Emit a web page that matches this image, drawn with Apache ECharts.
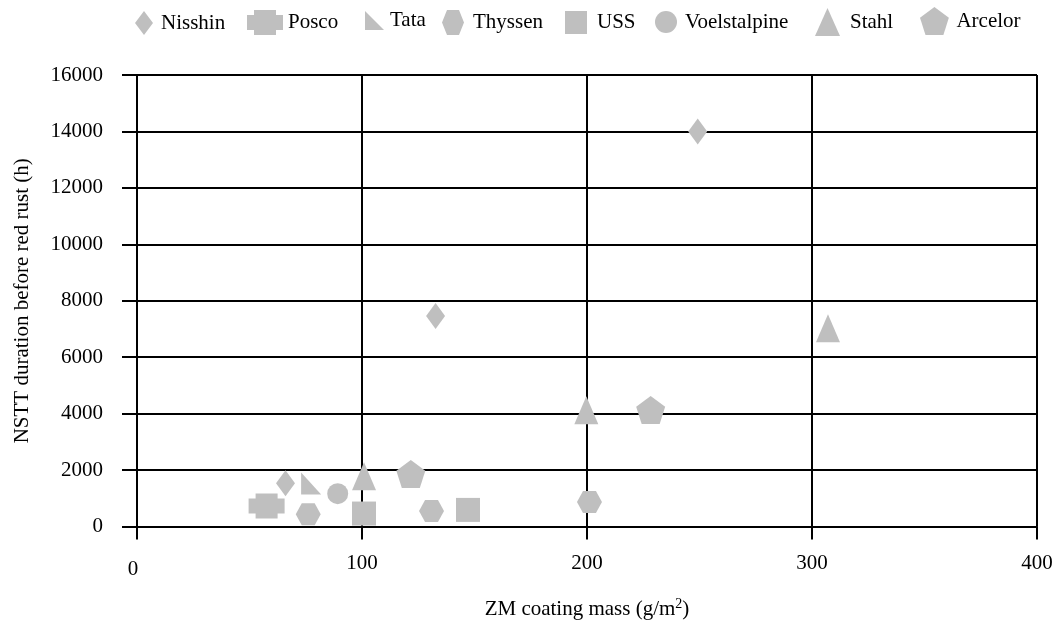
<!DOCTYPE html>
<html>
<head>
<meta charset="utf-8">
<script src="https://cdn.jsdelivr.net/npm/echarts@6/dist/echarts.min.js"></script>
<style>html,body{margin:0;padding:0;background:#fff}#c{width:1057px;height:625px}</style>
</head>
<body>
<div id="c"></div>
<script>
// ---- data ----
const seriesNames = ['Nisshin','Posco','Tata','Thyssen','USS','Voelstalpine','Stahl','Arcelor'];
const nisshinX = [66, 132.7, 249.2];
const nisshinY = [1530, 7460, 14000];
const poscoX = [57.6];
const poscoY = [730];
const tataX = [77.4];
const tataY = [1520];
const thyssenX = [76.1, 130.9, 201.1];
const thyssenY = [435, 547, 865];
const ussX = [100.9, 147.1];
const ussY = [459, 588];
const voelstalpineX = [89.2];
const voelstalpineY = [1165];
const stahlX = [100.9, 199.7, 307.1];
const stahlY = [1782, 4118, 7022];
const arcelorX = [121.7, 228.3];
const arcelorY = [1859, 4129];
const xTicks = [0, 100, 200, 300, 400];
const yTicks = [0, 2000, 4000, 6000, 8000, 10000, 12000, 14000, 16000];

// ---- styling ----
const GRAY = '#bfbfbf';
const FONT = "'Liberation Serif', 'Times New Roman', serif";
const CROSS = 'path://M7,0 L29,0 L29,5 L36,5 L36,20 L29,20 L29,25 L7,25 L7,20 L0,20 L0,5 L7,5 Z';
const RTRI = 'path://M0,0 L0,10 L10,10 Z';
const HEX = 'path://M0,5 L2.9,0 L9.1,0 L12,5 L9.1,10 L2.9,10 Z';
const HEX_LEG = 'path://M0,12.5 L5,0 L17,0 L22,12.5 L17,25 L5,25 Z';
const PENT = 'path://M50,0 L100,37 L81,97 L19,97 L0,37 Z';

const xs = [nisshinX, poscoX, tataX, thyssenX, ussX, voelstalpineX, stahlX, arcelorX];
const ys = [nisshinY, poscoY, tataY, thyssenY, ussY, voelstalpineY, stahlY, arcelorY];
const symbols = ['diamond', CROSS, RTRI, HEX, 'rect', 'circle', 'triangle', PENT];
const legIcons = ['diamond', CROSS, RTRI, HEX_LEG, 'rect', 'circle', 'triangle', PENT];
const sizes = [[19,26],[36,25],[20,22],[25,22],[24,24],[21,21],[24,28],[29,28]];
// legend layout: icon left, icon size, text gap, top, text lift
const legLeft = [135, 247, 365, 442, 565, 655, 815, 920];
const legSize = [[18,24],[36,26],[19,22],[22,25],[22,23],[22,23],[25,28],[30,28]];
const legGap = [8, 5, 6, 9, 10, 8, 10, 7];
const legTop = [11, 10, 10, 10, 11, 11, 8, 7];
const legLift = [0, 0, 3, 0, 0, 0, 0, 8];

const zip = (a, b) => a.map((v, i) => [v, b[i]]);

const series = seriesNames.map((n, i) => ({
  name: n, type: 'scatter',
  data: zip(xs[i], ys[i]),
  symbol: symbols[i], symbolSize: sizes[i],
  itemStyle: { color: GRAY, opacity: 1 },
  emphasis: { disabled: true }
}));

const legends = seriesNames.map((n, i) => ({
  show: true, left: legLeft[i], top: legTop[i], padding: 0,
  itemWidth: legSize[i][0], itemHeight: legSize[i][1],
  data: [{ name: n, icon: legIcons[i] }],
  textStyle: { fontFamily: FONT, fontSize: 21, color: '#000', padding: [0, 0, legLift[i], legGap[i] - 5] },
  selectedMode: false
}));

const lineStyle = { color: '#000', width: 2 };

const chart = echarts.init(document.getElementById('c'), null, { renderer: 'canvas' });
chart.setOption({
  animation: false,
  backgroundColor: '#fff',
  legend: legends,
  grid: { left: 137, right: 20, top: 75, bottom: 95, containLabel: false },
  xAxis: {
    type: 'value', min: xTicks[0], max: xTicks[xTicks.length - 1], interval: 100,
    name: 'ZM coating mass (g/m{sup|2})', nameLocation: 'middle', nameGap: 71,
    nameTextStyle: { fontFamily: FONT, fontSize: 21, color: '#000',
      rich: { sup: { fontFamily: FONT, fontSize: 14, color: '#000', verticalAlign: 'top', padding: [0, 0, 10, 0] } } },
    axisLine: { show: true, onZero: false, lineStyle },
    axisTick: { show: true, inside: false, length: 13, lineStyle },
    splitLine: { show: true, lineStyle },
    axisLabel: {
      fontFamily: FONT, fontSize: 21, color: '#000', margin: 26,
      formatter: v => v === 0 ? '{z|0}' : String(v),
      rich: { z: { fontFamily: FONT, fontSize: 21, color: '#000', padding: [6, 8, 0, 0] } }
    }
  },
  yAxis: {
    type: 'value', min: yTicks[0], max: yTicks[yTicks.length - 1], interval: 2000,
    name: 'NSTT duration before red rust (h)', nameLocation: 'middle', nameGap: 104,
    nameTextStyle: { fontFamily: FONT, fontSize: 21, color: '#000' },
    axisLine: { show: true, onZero: false, lineStyle },
    axisTick: { show: true, inside: false, length: 15, lineStyle },
    splitLine: { show: true, lineStyle },
    axisLabel: { fontFamily: FONT, fontSize: 21, color: '#000', margin: 34, formatter: v => String(v) }
  },
  series
});
</script>
</body>
</html>
